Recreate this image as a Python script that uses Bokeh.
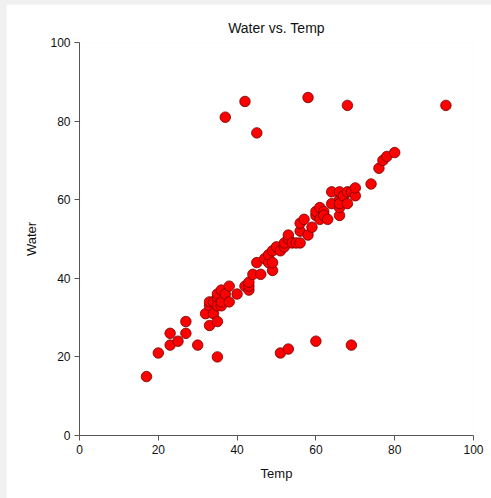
from bokeh.plotting import figure
from bokeh.models import Range1d, ColumnDataSource, FixedTicker
from bokeh.layouts import column
from bokeh.embed import file_html
from bokeh.resources import INLINE

# Temperature / water observations
temp = [
    37, 42, 45, 58, 68, 93, 35, 51, 53, 60, 69,
    17, 20, 23, 23, 25, 27, 27, 30,
    32, 33, 33, 33, 34, 34, 35, 35, 35, 35, 36, 36, 36, 37, 38, 38,
    40, 42, 43, 43, 43, 44, 45, 46, 47, 48, 48, 49, 49, 49, 50, 51,
    52, 52, 53, 53, 54, 55, 56, 56, 56, 57, 58, 59,
    60, 60, 61, 61, 62, 62, 63, 64, 64, 66, 66, 66, 66, 66, 67, 68, 68,
    69, 70, 70, 74, 76, 77, 78, 80,
]
water = [
    81, 85, 77, 86, 84, 84, 20, 21, 22, 24, 23,
    15, 21, 23, 26, 24, 26, 29, 23,
    31, 28, 33, 34, 31, 34, 29, 35, 36, 33, 33, 34, 37, 36, 34, 38,
    36, 38, 37, 38, 39, 41, 44, 41, 45, 44, 46, 42, 47, 44, 48, 47,
    48, 49, 50, 51, 49, 49, 49, 52, 54, 55, 51, 53,
    56, 57, 55, 58, 57, 56, 55, 59, 62, 56, 58, 60, 62, 59, 61, 59, 62,
    62, 61, 63, 64, 68, 70, 71, 72,
]
ticks = [0, 20, 40, 60, 80, 100]

src = ColumnDataSource(data=dict(temp=temp, water=water))

p = figure(
    width=485, height=494,
    x_range=Range1d(0, 100), y_range=Range1d(0, 100),
    output_backend="svg", toolbar_location=None,
    title="Water vs. Temp",
    min_border_left=73, min_border_right=18,
    min_border_top=38, min_border_bottom=63,
)
p.margin = (4, 0, 0, 6)
p.background_fill_color = "white"
p.border_fill_color = "white"
p.outline_line_color = None
p.grid.visible = False

p.title.align = "center"
p.title.text_font = "Liberation Sans"
p.title.text_font_size = "14px"
p.title.text_font_style = "normal"
p.title.text_color = "#111111"
p.title.standoff = 13

for ax in (p.xaxis[0], p.yaxis[0]):
    ax.ticker = FixedTicker(ticks=ticks)
    ax.axis_line_color = "#555555"
    ax.major_tick_line_color = "#555555"
    ax.major_tick_out = 5
    ax.major_tick_in = 0
    ax.minor_tick_line_color = None
    ax.major_label_text_font = "Liberation Sans"
    ax.major_label_text_font_size = "12px"
    ax.major_label_text_color = "#111111"
    ax.axis_label_text_font = "Liberation Sans"
    ax.axis_label_text_font_size = "13px"
    ax.axis_label_text_font_style = "normal"
    ax.axis_label_text_color = "#111111"

p.xaxis.axis_label = "Temp"
p.yaxis.axis_label = "Water"
p.xaxis.major_label_standoff = 4
p.yaxis.major_label_standoff = 4
p.xaxis.axis_label_standoff = 9
p.yaxis.axis_label_standoff = 8

p.scatter("temp", "water", source=src, size=10.5,
          fill_color="#ff0000", line_color="#700000", line_width=0.8)

page = column(p, styles={"background-color": "#f0f0f0"})
open("out.html", "w").write(file_html(page, INLINE))
